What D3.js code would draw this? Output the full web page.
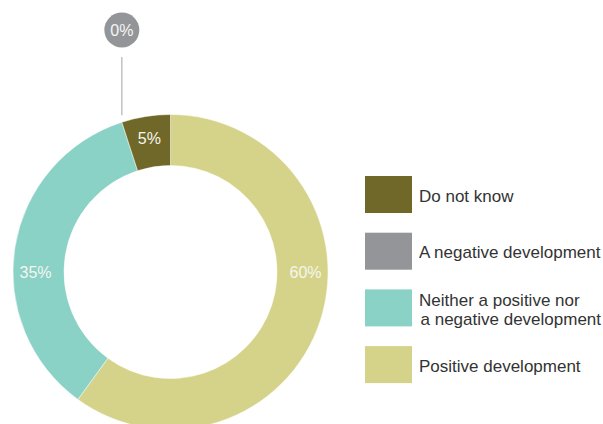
<!DOCTYPE html>
<html>
<head>
<meta charset="utf-8">
<script src="https://cdn.jsdelivr.net/npm/d3@7"></script>
<style>
  html, body { margin: 0; padding: 0; background: #fff; }
  svg { display: block; font-family: "Liberation Sans", Arial, Helvetica, sans-serif; }
</style>
</head>
<body>
<svg id="chart" width="603" height="424"></svg>
<script>
// Answer categories, in clockwise order around the ring (starting at 12 o'clock)
const categories = ["Positive development", "Neither a positive nor a negative development", "A negative development", "Do not know"];
const values = [60, 35, 0, 5];
const colors = ["#d5d389", "#8ad1c6", "#939598", "#706828"];
// Legend rows are listed top-to-bottom; multi-line labels are split into lines
const legendOrder = ["Do not know", "A negative development", "Neither a positive nor a negative development", "Positive development"];
const legendLines = [["Do not know"], ["A negative development"], ["Neither a positive nor", "a negative development"], ["Positive development"]];

const svg = d3.select("#chart");
const cx = 170.5, cy = 272, outerR = 157.5, innerR = 106.5, labelR = 135;

const data = categories.map((c, i) => ({ name: c, value: values[i], color: colors[i] }));

const pie = d3.pie().value(d => d.value).sort(null).startAngle(0).endAngle(2 * Math.PI);
const arcs = pie(data);
const arc = d3.arc().innerRadius(innerR).outerRadius(outerR);

const g = svg.append("g").attr("transform", `translate(${cx},${cy})`);

g.selectAll("path.slice")
  .data(arcs.filter(a => a.value > 0))
  .join("path")
  .attr("class", "slice")
  .attr("d", arc)
  .attr("fill", d => d.data.color)
  .attr("stroke", "#ffffff")
  .attr("stroke-width", 0.5);

// Value labels: large slices that cross the horizontal midline keep their label on it
function labelAngle(a) {
  const marks = [Math.PI / 2, 3 * Math.PI / 2];
  for (const m of marks) if (a.startAngle <= m && a.endAngle >= m) return m;
  return (a.startAngle + a.endAngle) / 2;
}

g.selectAll("text.value")
  .data(arcs.filter(a => a.value > 0))
  .join("text")
  .attr("class", "value")
  .attr("x", d => labelR * Math.sin(labelAngle(d)))
  .attr("y", d => -labelR * Math.cos(labelAngle(d)))
  .attr("text-anchor", "middle")
  .attr("dominant-baseline", "central")
  .attr("font-size", 16)
  .attr("fill", "#f6f6ef")
  .text(d => d.value + "%");

// Zero-value slices get a callout bubble above the ring
const bubbleY = 30, bubbleR = 17.5, lineTop = 57;
arcs.filter(a => a.value === 0).forEach(a => {
  const ax = outerR * Math.sin(a.startAngle);
  const ay = -outerR * Math.cos(a.startAngle);
  g.append("line")
    .attr("x1", ax).attr("x2", ax)
    .attr("y1", ay - 7).attr("y2", lineTop - cy)
    .attr("stroke", "#c2c2c2")
    .attr("stroke-width", 1.5);
  g.append("circle")
    .attr("cx", ax).attr("cy", bubbleY - cy)
    .attr("r", bubbleR)
    .attr("fill", a.data.color);
  g.append("text")
    .attr("x", ax).attr("y", bubbleY - cy)
    .attr("text-anchor", "middle")
    .attr("dominant-baseline", "central")
    .attr("font-size", 16)
    .attr("fill", "#f6f6f6")
    .text(a.value + "%");
});

// Legend
const legendX = 365, legendTop = 176, rowStep = 56.7, swW = 47, swH = 37, lineH = 19;
const colorOf = d3.scaleOrdinal().domain(categories).range(colors);

const rows = svg.append("g").selectAll("g.row")
  .data(legendOrder)
  .join("g")
  .attr("class", "row")
  .attr("transform", (d, i) => `translate(${legendX},${legendTop + i * rowStep})`);

rows.append("rect")
  .attr("width", swW)
  .attr("height", swH)
  .attr("fill", d => colorOf(d));

rows.each(function (d, i) {
  const lines = legendLines[i];
  const first = swH / 2 - (lines.length - 1) * lineH / 2;
  const t = d3.select(this).append("text")
    .attr("font-size", 17)
    .attr("fill", "#333333");
  lines.forEach((ln, j) => {
    t.append("tspan")
      .attr("x", swW + 7 + (j > 0 ? 1.5 : 0))
      .attr("y", first + j * lineH)
      .attr("dy", "0.42em")
      .text(ln);
  });
});
</script>
</body>
</html>
